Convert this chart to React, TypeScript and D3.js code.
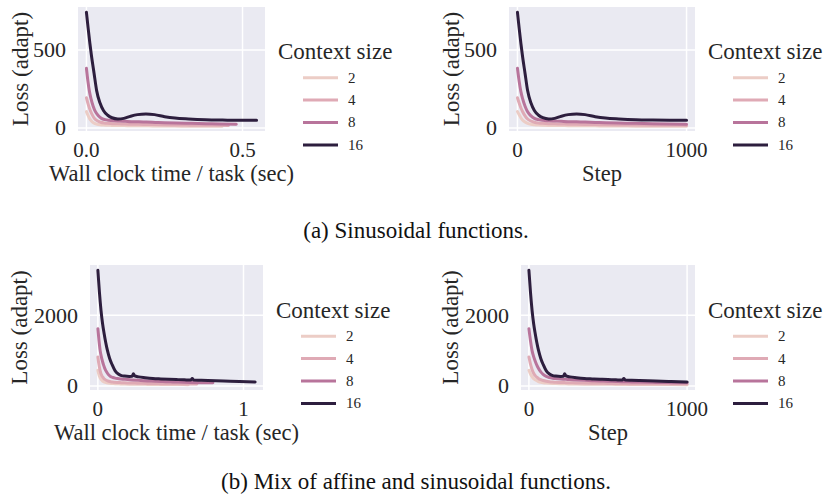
import React from 'react';
import * as d3 from 'd3';

// context sizes shown in the legend, and their seaborn-like colours
const contextSizes = ['2', '4', '8', '16'];
const colors = ['#eccdc6', '#dfaab5', '#b8749b', '#2d1e3e'];

// (a) sinusoidal: loss (adapt) per step
const stepsA = [0, 10, 20, 30, 45, 60, 80, 100, 125, 150, 185, 220, 260, 300, 350, 400, 460, 520, 600, 700, 800, 900, 1000];
const lossA2 = [105, 85, 66, 52, 38, 30, 24, 21, 19, 18, 17, 16, 16, 15, 15, 14, 14, 13, 13, 12, 12, 12, 11];
const lossA4 = [194, 160, 130, 106, 78, 58, 45, 37, 32, 30, 28, 27, 26, 25, 24, 23, 22, 21, 20, 19, 18, 18, 17];
const lossA8 = [383, 300, 235, 190, 140, 105, 78, 62, 54, 50, 47, 45, 43, 41, 40, 38, 36, 34, 32, 30, 28, 26, 25];
const lossA16 = [742, 640, 545, 460, 350, 240, 160, 112, 82, 66, 58, 62, 76, 86, 90, 86, 73, 64, 58, 53, 51, 50, 50];
// total wall clock seconds per task for 1000 steps
const secondsA = [0.435, 0.455, 0.48, 0.545];

// (b) affine + sinusoidal
const stepsB = [0, 10, 20, 30, 40, 50, 60, 75, 90, 110, 130, 150, 170, 200, 218, 226, 234, 260, 300, 350, 400, 450, 500, 550, 590, 600, 610, 650, 700, 800, 900, 1000];
const lossB2 = [444, 340, 265, 210, 175, 148, 128, 108, 95, 84, 77, 72, 68, 64, 62, 61, 61, 59, 56, 53, 51, 49, 47, 46, 45, 45, 44, 43, 42, 41, 40, 39];
const lossB4 = [820, 620, 470, 360, 295, 250, 215, 180, 155, 135, 122, 113, 106, 100, 97, 96, 95, 92, 88, 84, 80, 77, 74, 71, 69, 68, 68, 66, 64, 61, 59, 57];
const lossB8 = [1622, 1280, 1000, 830, 700, 590, 500, 400, 330, 270, 240, 222, 210, 198, 193, 191, 189, 182, 172, 160, 150, 142, 135, 128, 122, 121, 120, 115, 110, 102, 95, 90];
const lossB16 = [3275, 2650, 2140, 1760, 1480, 1230, 1020, 780, 610, 430, 340, 295, 280, 272, 275, 345, 285, 258, 235, 212, 200, 190, 182, 175, 170, 210, 168, 162, 155, 140, 126, 113];
const secondsB = [0.62, 0.68, 0.79, 1.08];

const FONT = "'Liberation Serif', 'DejaVu Serif', 'Noto Serif', Tinos, 'Nimbus Roman', FreeSerif, 'Times New Roman', Times, serif";

type Panel = {
  x: number; y: number; w: number; h: number;
  xDomain: [number, number]; yDomain: [number, number];
  xTicks: number[]; xFmt: (v: number) => string; yTicks: number[];
  xLabel: string; steps: number[]; losses: number[][]; seconds: number[] | null;
};

const fmt1 = d3.format('.1f');
const fmt0 = d3.format('d');

const panels: Panel[] = [
  { x: 78, y: 7, w: 187, h: 124, xDomain: [-0.027, 0.572], yDomain: [-19, 776], xTicks: [0, 0.5], xFmt: fmt1, yTicks: [0, 500],
    xLabel: 'Wall clock time / task (sec)', steps: stepsA, losses: [lossA2, lossA4, lossA8, lossA16], seconds: secondsA },
  { x: 509, y: 7, w: 186, h: 124, xDomain: [-50, 1050], yDomain: [-19, 776], xTicks: [0, 1000], xFmt: fmt0, yTicks: [0, 500],
    xLabel: 'Step', steps: stepsA, losses: [lossA2, lossA4, lossA8, lossA16], seconds: null },
  { x: 90, y: 265, w: 173, h: 125, xDomain: [-0.054, 1.134], yDomain: [-113, 3423], xTicks: [0, 1], xFmt: fmt0, yTicks: [0, 2000],
    xLabel: 'Wall clock time / task (sec)', steps: stepsB, losses: [lossB2, lossB4, lossB8, lossB16], seconds: secondsB },
  { x: 521, y: 265, w: 174, h: 125, xDomain: [-50, 1050], yDomain: [-113, 3423], xTicks: [0, 1000], xFmt: fmt0, yTicks: [0, 2000],
    xLabel: 'Step', steps: stepsB, losses: [lossB2, lossB4, lossB8, lossB16], seconds: null },
];

const captions = [
  { text: '(a) Sinusoidal functions.', y: 238 },
  { text: '(b) Mix of affine and sinusoidal functions.', y: 489 },
];

function PanelView({ p }: { p: Panel }) {
  const xs = d3.scaleLinear().domain(p.xDomain).range([p.x, p.x + p.w]);
  const ys = d3.scaleLinear().domain(p.yDomain).range([p.y + p.h, p.y]);
  const midY = p.y + p.h / 2;

  return (
    <g>
      <rect x={p.x} y={p.y} width={p.w} height={p.h} fill="#eaeaf2" />
      {p.yTicks.map(t => (
        <line key={'gy' + t} x1={p.x} x2={p.x + p.w} y1={ys(t)} y2={ys(t)} stroke="#fff" strokeWidth={1.5} />
      ))}
      {p.xTicks.map(t => (
        <line key={'gx' + t} x1={xs(t)} x2={xs(t)} y1={p.y} y2={p.y + p.h} stroke="#fff" strokeWidth={1.5} />
      ))}
      {p.losses.map((loss, i) => {
        const pts = p.steps.map((s, j) => [p.seconds ? (s / 1000) * p.seconds[i] : s, loss[j]] as [number, number]);
        const line = d3.line<[number, number]>()
          .curve(d3.curveMonotoneX)
          .x(d => xs(d[0]))
          .y(d => ys(d[1]));
        return <path key={i} d={line(pts) || ''} fill="none" stroke={colors[i]} strokeWidth={3} strokeLinecap="round" strokeLinejoin="round" />;
      })}
      {p.yTicks.map(t => (
        <text key={'ty' + t} x={p.x - 12} y={ys(t)} dy="0.33em" textAnchor="end" fontSize={22} fill="#262626">{t}</text>
      ))}
      {p.xTicks.map(t => (
        <text key={'tx' + t} x={xs(t)} y={p.y + p.h + 26} textAnchor="middle" fontSize={21} fill="#262626">{p.xFmt(t)}</text>
      ))}
      <text x={p.x + p.w / 2} y={p.y + p.h + 50} textAnchor="middle" fontSize={22.5} fill="#262626">{p.xLabel}</text>
      <text transform={`translate(${p.x - (p.yTicks[1] >= 1000 ? 63 : 50)},${midY}) rotate(-90)`} textAnchor="middle" fontSize={23} fill="#262626">Loss (adapt)</text>
      {/* legend */}
      <text x={p.x + p.w + 13} y={midY - 10} fontSize={23} fill="#262626">Context size</text>
      {contextSizes.map((c, i) => {
        const ly = midY + 8.7 + i * 22.4;
        return (
          <g key={c}>
            <line x1={p.x + p.w + 38} x2={p.x + p.w + 73} y1={ly} y2={ly} stroke={colors[i]} strokeWidth={3} />
            <text x={p.x + p.w + 83} y={ly} dy="0.33em" fontSize={15} fill="#262626">{c}</text>
          </g>
        );
      })}
    </g>
  );
}

export default function App() {
  return (
    <svg width={828} height={502} style={{ position: 'absolute', left: 0, top: 0, display: 'block', fontFamily: FONT }}>
      <rect width={828} height={502} fill="#fff" />
      {panels.map((p, i) => <PanelView key={i} p={p} />)}
      {captions.map(c => (
        <text key={c.text} x={416} y={c.y} textAnchor="middle" fontSize={23} fill="#111">{c.text}</text>
      ))}
    </svg>
  );
}
